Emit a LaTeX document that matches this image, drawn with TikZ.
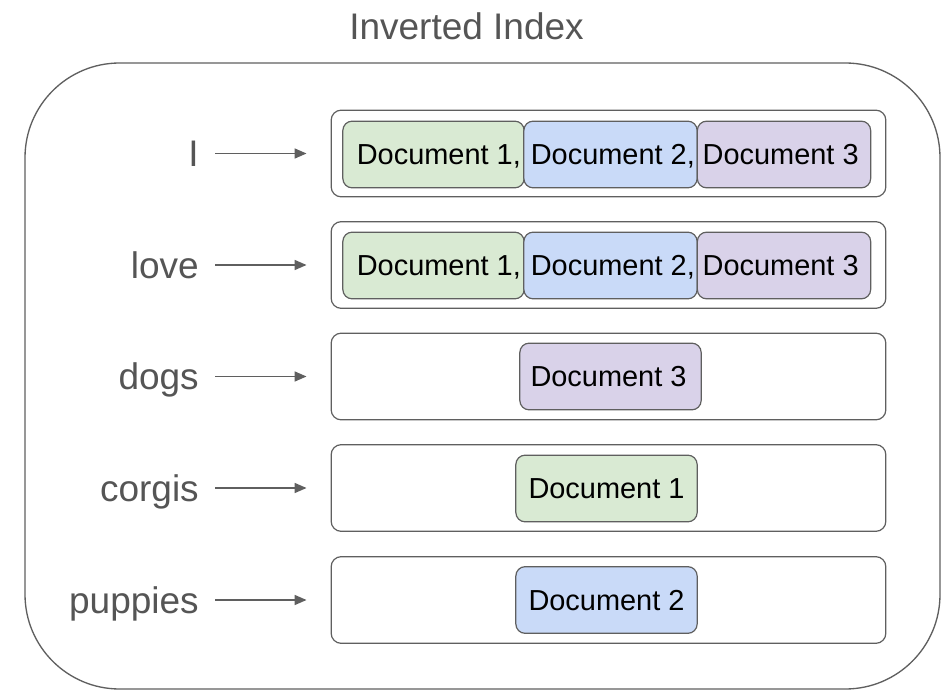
\documentclass[tikz,border=0pt]{standalone}
\usepackage{fontspec}
\setmainfont{Liberation Sans}
\usetikzlibrary{arrows.meta}
\definecolor{edgegray}{HTML}{5F5F5F}
\definecolor{txtgray}{HTML}{555555}
\definecolor{docgreen}{HTML}{D9EAD3}
\definecolor{docblue}{HTML}{C9DAF8}
\definecolor{docpurple}{HTML}{D9D2E9}
\tikzset{
  outerbox/.style={draw=edgegray, line width=1pt, rounded corners=71pt},
  rowbox/.style={draw=edgegray, line width=0.9pt, fill=white, rounded corners=7.5pt,
    minimum width=416pt, minimum height=65pt, inner sep=0pt},
  docbox/.style={draw=edgegray, line width=0.9pt, rounded corners=7pt,
    minimum height=50pt, inner sep=0pt, text height=15.5pt, text depth=0pt,
    font=\fontsize{21.7}{26}\selectfont, text=black},
  wide/.style={minimum width=136pt},
  narrow/.style={minimum width=130pt},
  wordlbl/.style={anchor=east, inner sep=0pt, text height=20pt, text depth=0pt,
    font=\fontsize{27.75}{32}\selectfont, text=txtgray},
  arr/.style={draw=edgegray, line width=1.1pt, -{Triangle[length=9pt,width=7.5pt]},
    shorten <=12pt, shorten >=18pt},
}
\begin{document}
\begin{tikzpicture}[x=0.75pt,y=-0.75pt]
\useasboundingbox (0,0) rectangle (942,691);
% title
\node[anchor=base, inner sep=0pt, font=\fontsize{27.75}{32}\selectfont, text=txtgray]
  (title) at (466.5,39.3) {Inverted Index};
% outer frame
\draw[outerbox] (25,63) rectangle (940,689);
% rows
\node[rowbox] (r1) at (608.5,153.5) {};
\node[rowbox] (r2) at (608.5,265) {};
\node[rowbox] (r3) at (608.5,376.5) {};
\node[rowbox] (r4) at (608.5,488) {};
\node[rowbox] (r5) at (608.5,600) {};
% row 1 docs
\node[docbox, wide, fill=docgreen] (r1d1) at (433.5,154.5) {\hspace*{8pt}Document 1,};
\node[docbox, narrow, fill=docblue] (r1d2) at (610.5,154.5) {\hspace*{3.5pt}Document 2,};
\node[docbox, narrow, fill=docpurple] (r1d3) at (784,154.5) {Document 3\hspace*{5pt}};
% row 2 docs
\node[docbox, wide, fill=docgreen] (r2d1) at (433.5,265.5) {\hspace*{8pt}Document 1,};
\node[docbox, narrow, fill=docblue] (r2d2) at (610.5,265.5) {\hspace*{3.5pt}Document 2,};
\node[docbox, narrow, fill=docpurple] (r2d3) at (784,265.5) {Document 3\hspace*{5pt}};
% single docs
\node[docbox, wide, fill=docpurple] (r3d) at (610.5,376.5) {Document 3\hspace*{3pt}};
\node[docbox, wide, fill=docgreen] (r4d) at (606.5,488.5) {Document 1};
\node[docbox, wide, fill=docblue] (r5d) at (606.5,600) {Document 2};
% labels
\node[wordlbl] (w1) at (199,153.5) {I};
\node[wordlbl] (w2) at (199,265) {love};
\node[wordlbl] (w3) at (199,376.5) {dogs};
\node[wordlbl] (w4) at (199,488) {corgis};
\node[wordlbl] (w5) at (199,600) {puppies};
% arrows
\draw[arr] (w1.east) -- (r1.west);
\draw[arr] (w2.east) -- (r2.west);
\draw[arr] (w3.east) -- (r3.west);
\draw[arr] (w4.east) -- (r4.west);
\draw[arr] (w5.east) -- (r5.west);
\end{tikzpicture}
\end{document}
